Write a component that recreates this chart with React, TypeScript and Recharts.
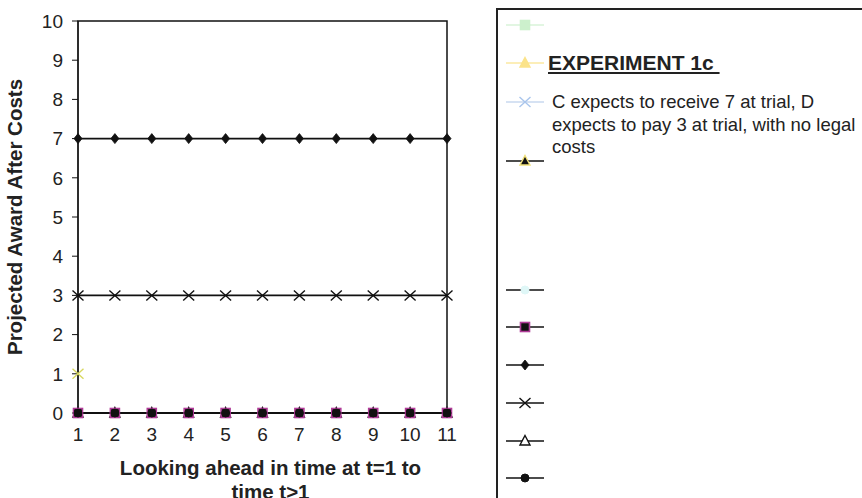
import React from "react";
import { LineChart, Line, XAxis, YAxis, ReferenceArea } from "recharts";

const steps = [1, 2, 3, 4, 5, 6, 7, 8, 9, 10, 11];
const yTicks = [0, 1, 2, 3, 4, 5, 6, 7, 8, 9, 10];
const plaintiffSeven = [7, 7, 7, 7, 7, 7, 7, 7, 7, 7, 7];
const defendantThree = [3, 3, 3, 3, 3, 3, 3, 3, 3, 3, 3];
const zeroTriangles = [0, 0, 0, 0, 0, 0, 0, 0, 0, 0, 0];
const zeroSquares = [0, 0, 0, 0, 0, 0, 0, 0, 0, 0, 0];
const zeroCircles = [0, 0, 0, 0, 0, 0, 0, 0, 0, 0, 0];
const firstStepOnly = [1, null, null, null, null, null, null, null, null, null, null];

const data = steps.map((t, i) => ({
  t,
  seven: plaintiffSeven[i],
  three: defendantThree[i],
  tri: zeroTriangles[i],
  sq: zeroSquares[i],
  circ: zeroCircles[i],
  first: firstStepOnly[i],
}));

const FONT = '"Liberation Sans", Arial, Helvetica, sans-serif';

type Kind = "square" | "triangle" | "cross" | "circle" | "diamond";

function Marker({ kind, cx, cy, fill, stroke }: { kind: Kind; cx: number; cy: number; fill: string; stroke: string }) {
  if (kind === "square")
    return <rect x={cx - 4.5} y={cy - 4.5} width={9} height={9} fill={fill} stroke={stroke} strokeWidth={1.6} />;
  if (kind === "triangle")
    return (
      <polygon
        points={`${cx},${cy - 5.5} ${cx + 5},${cy + 4} ${cx - 5},${cy + 4}`}
        fill={fill}
        stroke={stroke}
        strokeWidth={1.4}
      />
    );
  if (kind === "cross")
    return (
      <path
        d={`M${cx - 5.5},${cy - 5} L${cx + 5.5},${cy + 5} M${cx - 5.5},${cy + 5} L${cx + 5.5},${cy - 5}`}
        stroke={stroke}
        strokeWidth={1.4}
        fill="none"
      />
    );
  if (kind === "circle") return <circle cx={cx} cy={cy} r={4} fill={fill} stroke={stroke} strokeWidth={1} />;
  return (
    <polygon
      points={`${cx},${cy - 5} ${cx + 4},${cy} ${cx},${cy + 5} ${cx - 4},${cy}`}
      fill={fill}
      stroke={stroke}
      strokeWidth={0.8}
    />
  );
}

const dotOf = (kind: Kind, fill: string, stroke: string) => (p: any) =>
  p.cy == null || p.value == null ? (
    <g key={`e-${p.index}`} />
  ) : (
    <Marker key={`m-${p.index}`} kind={kind} cx={p.cx} cy={p.cy} fill={fill} stroke={stroke} />
  );

const legendItems: { label: string; line: string; kind: Kind; fill: string; stroke: string; y: number; heading?: boolean }[] = [
  { label: "", line: "#d8f3d8", kind: "square", fill: "#ccf0cc", stroke: "#ccf0cc", y: 23 },
  { label: "EXPERIMENT 1c", line: "#fbe9a0", kind: "triangle", fill: "#fbe38a", stroke: "#fbe38a", y: 61, heading: true },
  {
    label: "C expects to receive 7 at trial, D expects to pay 3 at trial, with no legal costs",
    line: "#c8d8ef",
    kind: "cross",
    fill: "none",
    stroke: "#a9c5ec",
    y: 100,
  },
  { label: "", line: "#111", kind: "triangle", fill: "#111", stroke: "#f2e27a", y: 159 },
  { label: "", line: "#111", kind: "circle", fill: "#dff7f7", stroke: "#dff7f7", y: 288 },
  { label: "", line: "#111", kind: "square", fill: "#111", stroke: "#b03c98", y: 325 },
  { label: "", line: "#111", kind: "diamond", fill: "#111", stroke: "#111", y: 363 },
  { label: "", line: "#111", kind: "cross", fill: "none", stroke: "#111", y: 401 },
  { label: "", line: "#111", kind: "triangle", fill: "#fff", stroke: "#111", y: 439 },
  { label: "", line: "#111", kind: "circle", fill: "#111", stroke: "#111", y: 476 },
];

function LegendBox() {
  return (
    <div
      style={{
        position: "absolute",
        left: 496,
        top: 8,
        width: 420,
        height: 540,
        border: "2px solid #222",
        background: "#fff",
        fontFamily: FONT,
        color: "#222",
      }}
    >
      {legendItems.map((it, i) => (
        <React.Fragment key={i}>
          <svg style={{ position: "absolute", left: 8, top: it.y - 8 - 10 }} width={42} height={20}>
            <line x1={0} y1={10} x2={38} y2={10} stroke={it.line} strokeWidth={1.6} />
            <Marker kind={it.kind} cx={19} cy={10} fill={it.fill} stroke={it.stroke} />
          </svg>
          {it.label && (
            <div
              style={
                it.heading
                  ? {
                      position: "absolute",
                      left: 50,
                      top: it.y - 8 - 13,
                      fontSize: 21,
                      fontWeight: "bold",
                      textDecoration: "underline",
                      whiteSpace: "pre",
                      lineHeight: "26px",
                    }
                  : {
                      position: "absolute",
                      left: 54,
                      top: it.y - 8 - 11,
                      width: 310,
                      fontSize: 18.5,
                      lineHeight: "22.5px",
                    }
              }
            >
              {it.heading ? it.label + " " : it.label}
            </div>
          )}
        </React.Fragment>
      ))}
    </div>
  );
}

const axisTitle = { fontSize: 20.5, fontWeight: "bold", fill: "#222", fontFamily: FONT };

export default function App() {
  return (
    <div style={{ position: "absolute", left: 0, top: 0, width: 862, height: 498, overflow: "hidden", background: "#fff" }}>
      <LineChart width={862} height={498} data={data} margin={{ top: 21, right: 415, bottom: 54, left: 0 }}>
        <ReferenceArea x1={1} x2={11} y1={0} y2={10} fill="none" stroke="#111" strokeWidth={1.5} fillOpacity={0} />
        <XAxis
          dataKey="t"
          type="number"
          domain={[1, 11]}
          ticks={steps}
          interval={0}
          height={30}
          stroke="#111"
          tickSize={4}
          tickMargin={11}
          tick={{ fill: "#222", fontSize: 19, fontFamily: FONT }}
          label={{
            value: "Looking ahead in time at t=1 to",
            position: "insideBottom",
            offset: -32,
            dx: 8,
            style: axisTitle,
          }}
        />
        <XAxis
          xAxisId="second"
          dataKey="t"
          type="number"
          domain={[1, 11]}
          ticks={[]}
          axisLine={false}
          tickLine={false}
          height={1}
          label={{
            value: "time t>1",
            position: "insideBottom",
            offset: -55,
            dx: 8,
            style: axisTitle,
          }}
        />
        <YAxis
          type="number"
          domain={[0, 10]}
          ticks={yTicks}
          interval={0}
          width={78}
          stroke="#111"
          tickSize={6}
          tickMargin={9}
          tick={{ fill: "#222", fontSize: 19, fontFamily: FONT }}
          label={{
            value: "Projected Award After Costs",
            angle: -90,
            position: "insideLeft",
            offset: 0,
            dx: 15,
            style: { ...axisTitle, textAnchor: "middle" },
          }}
        />
        <Line dataKey="seven" stroke="#111" strokeWidth={1.6} isAnimationActive={false} dot={dotOf("diamond", "#111", "#111")} />
        <Line dataKey="three" stroke="#111" strokeWidth={1.6} isAnimationActive={false} dot={dotOf("cross", "none", "#111")} />
        <Line dataKey="tri" stroke="#111" strokeWidth={1.6} isAnimationActive={false} dot={dotOf("triangle", "#fff", "#111")} />
        <Line dataKey="sq" stroke="#111" strokeWidth={1.6} isAnimationActive={false} dot={dotOf("square", "#111", "#b03c98")} />
        <Line dataKey="circ" stroke="#111" strokeWidth={1.6} isAnimationActive={false} dot={dotOf("circle", "#111", "#111")} />
        <Line dataKey="first" stroke="#e4e46a" strokeWidth={1.6} isAnimationActive={false} dot={dotOf("cross", "none", "#d8d860")} />
      </LineChart>
      <LegendBox />
    </div>
  );
}
